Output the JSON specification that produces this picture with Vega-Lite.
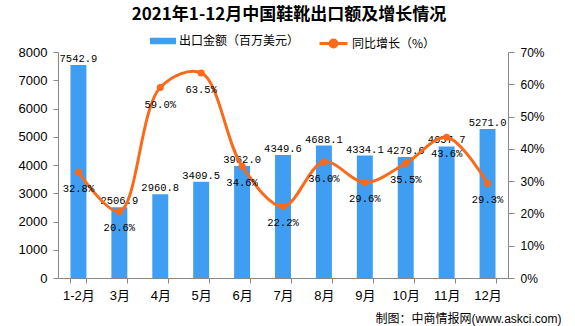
{
  "$schema": "https://vega.github.io/schema/vega-lite/v6.json",
  "width": 450,
  "height": 226,
  "autosize": {"type": "none"},
  "padding": {"left": 58, "top": 52, "right": 67, "bottom": 48},
  "background": "white",
  "title": {
    "text": "2021年1-12月中国鞋靴出口额及增长情况",
    "font": "Noto Sans CJK SC",
    "fontSize": 17,
    "fontWeight": "bold",
    "color": "#000000",
    "anchor": "middle",
    "frame": "group",
    "dx": 6
  },
  "config": {
    "view": {"stroke": null},
    "axis": {
      "labelFont": "Liberation Sans, Noto Sans CJK SC",
      "labelColor": "#000000",
      "domainColor": "#888888",
      "tickColor": "#888888",
      "grid": false,
      "ticks": true
    },
    "legend": {
      "labelFont": "Noto Sans CJK SC",
      "labelFontSize": 12,
      "labelColor": "#000000"
    }
  },
  "data": {
    "values": [
      {"month": "1-2月", "amount": 7542.9, "growth": 32.8},
      {"month": "3月", "amount": 2506.9, "growth": 20.6},
      {"month": "4月", "amount": 2960.8, "growth": 59.0},
      {"month": "5月", "amount": 3409.5, "growth": 63.5},
      {"month": "6月", "amount": 3962.0, "growth": 34.6},
      {"month": "7月", "amount": 4349.6, "growth": 22.2},
      {"month": "8月", "amount": 4688.1, "growth": 36.0},
      {"month": "9月", "amount": 4334.1, "growth": 29.6},
      {"month": "10月", "amount": 4279.6, "growth": 35.5},
      {"month": "11月", "amount": 4657.7, "growth": 43.6},
      {"month": "12月", "amount": 5271.0, "growth": 29.3}
    ]
  },
  "encoding": {
    "x": {
      "field": "month",
      "type": "nominal",
      "sort": null,
      "scale": {"paddingInner": 0.61, "paddingOuter": 0.305},
      "axis": {
        "labelAngle": 0,
        "labelFontSize": 13,
        "labelPadding": 6,
        "tickBand": "extent",
        "tickSize": 5,
        "title": "制图：中商情报网(www.askci.com)",
        "titleFont": "Liberation Sans, Noto Sans CJK SC",
        "titleFontSize": 12,
        "titleFontWeight": "normal",
        "titleColor": "#000000",
        "titleAlign": "right",
        "titleAnchor": "end",
        "titleBaseline": "middle",
        "titleX": 503,
        "titleY": 40
      }
    }
  },
  "layer": [
    {
      "encoding": {
        "y": {
          "field": "amount",
          "type": "quantitative",
          "scale": {"domain": [0, 8000], "nice": false},
          "axis": {
            "title": null,
            "values": [0, 1000, 2000, 3000, 4000, 5000, 6000, 7000, 8000],
            "format": "d",
            "labelFontSize": 13,
            "tickSize": 5,
            "labelPadding": 6
          }
        }
      },
      "layer": [
        {
          "mark": {"type": "bar"},
          "encoding": {
            "fill": {
              "datum": "出口金额（百万美元）",
              "type": "nominal",
              "scale": {"range": ["#3f9ef2"]},
              "legend": {
                "title": null,
                "orient": "none",
                "legendX": 92,
                "legendY": -24,
                "symbolType": "M-1,-0.25H1V0.25H-1Z",
                "symbolSize": 676,
                "symbolStrokeWidth": 0,
                "labelOffset": 3
              }
            }
          }
        },
        {
          "mark": {"type": "text", "baseline": "bottom", "dy": -1, "font": "Liberation Mono", "fontSize": 10.5, "color": "#000000"},
          "encoding": {
            "text": {"field": "amount", "type": "quantitative", "format": ".1f"}
          }
        }
      ]
    },
    {
      "encoding": {
        "y": {
          "field": "growth",
          "type": "quantitative",
          "scale": {"domain": [0, 70], "nice": false},
          "axis": {
            "orient": "right",
            "title": null,
            "values": [0, 10, 20, 30, 40, 50, 60, 70],
            "labelExpr": "datum.value + '%'",
            "labelFontSize": 12,
            "tickSize": 6,
            "labelPadding": 6
          }
        }
      },
      "layer": [
        {
          "mark": {"type": "line", "interpolate": "catmull-rom", "strokeWidth": 3},
          "encoding": {
            "stroke": {
              "datum": "同比增长（%）",
              "type": "nominal",
              "scale": {"range": ["#fb6a1a"]},
              "legend": {
                "title": null,
                "orient": "none",
                "legendX": 260,
                "legendY": -24,
                "symbolType": "M-1,0H1M-0.25,0A0.25,0.25,0,1,1,0.25,0A0.25,0.25,0,1,1,-0.25,0Z",
                "symbolSize": 784,
                "symbolStrokeWidth": 3,
                "symbolFillColor": "#fb6a1a",
                "labelOffset": 3
              }
            }
          }
        },
        {
          "mark": {"type": "circle", "size": 50, "color": "#fb6a1a", "opacity": 1},
          "encoding": {}
        },
        {
          "transform": [{"calculate": "format(datum.growth, '.1f') + '%'", "as": "growthLabel"}],
          "mark": {"type": "text", "baseline": "middle", "dy": 17, "font": "Liberation Mono", "fontSize": 10.5, "color": "#000000"},
          "encoding": {
            "text": {"field": "growthLabel", "type": "nominal"}
          }
        }
      ]
    }
  ],
  "resolve": {"scale": {"y": "independent", "fill": "independent", "stroke": "independent"}}
}
